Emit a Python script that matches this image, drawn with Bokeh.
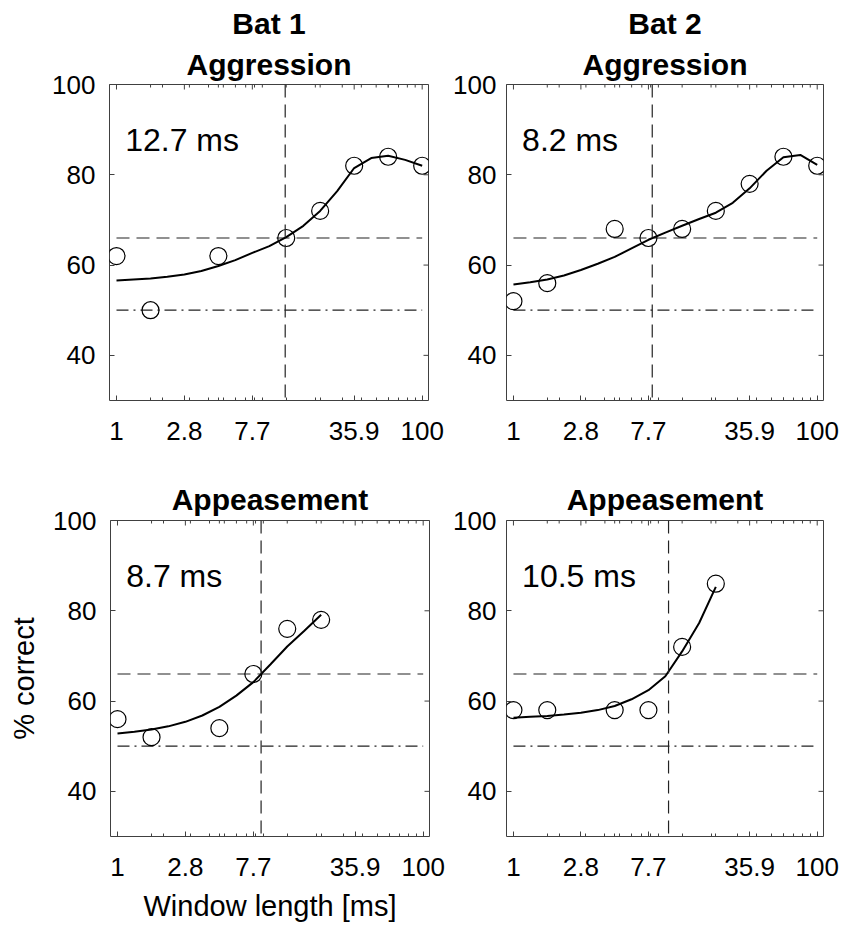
import math
from bokeh.plotting import figure
from bokeh.layouts import column, row
from bokeh.models import FixedTicker, Span, Title
from bokeh.core.properties import value
from bokeh.embed import file_html
from bokeh.resources import INLINE

FONT = "Liberation Sans"
AX = "#404040"
REF = "#222222"

# ---------------- data ----------------
win = [1.0, 1.67, 2.78, 4.64, 7.74, 12.9, 21.5, 35.9, 59.9, 100.0]
x_tick_pos = [1.0, 2.78, 7.74, 35.9, 100.0]
x_tick_labels = ["1", "2.8", "7.7", "35.9", "100"]
x_minor = [1.67, 4.64, 12.9, 21.5, 59.9, 2, 3, 4, 5, 6, 7, 8, 9, 20, 30, 40, 50, 60, 70, 80, 90]
y_ticks = [40, 60, 80, 100]
X_LO, X_HI = 0.9, 110
Y_LO, Y_HI = 30, 100

chance_level = 50
criterion_level = 66

fit_x = [1.0, 1.29, 1.67, 2.15, 2.78, 3.59, 4.64, 5.99, 7.74, 10.0,
         12.9, 16.7, 21.5, 27.8, 35.9, 46.4, 59.9, 77.4, 100.0]

bat1_agg_x = [1.0, 1.67, 4.64, 12.9, 21.5, 35.9, 59.9, 100.0]
bat1_agg_y = [62, 50, 62, 66, 72, 82, 84, 82]
bat1_agg_fit = [56.6, 56.8, 57.0, 57.4, 57.9, 58.7, 59.8, 61.1, 62.7, 64.2,
                66.2, 68.7, 72.0, 76.4, 81.5, 83.7, 84.2, 83.3, 82.0]
bat1_agg_thr = 12.7

bat2_agg_x = [1.0, 1.67, 4.64, 7.74, 12.9, 21.5, 35.9, 59.9, 100.0]
bat2_agg_y = [52, 56, 68, 66, 68, 72, 78, 84, 82]
bat2_agg_fit = [55.7, 56.2, 56.8, 57.7, 58.9, 60.3, 61.8, 63.7, 65.6, 67.2,
                68.7, 70.2, 71.6, 73.8, 77.0, 80.9, 83.9, 84.4, 82.2]
bat2_agg_thr = 8.2

bat1_app_x = [1.0, 1.67, 4.64, 7.74, 12.9, 21.5]
bat1_app_y = [56, 52, 54, 66, 76, 78]
bat1_app_fit = [52.8, 53.2, 53.7, 54.4, 55.4, 56.8, 58.7, 61.2, 64.2, 68.1,
                72.1, 75.6, 79.1]
bat1_app_thr = 8.7

bat2_app_x = [1.0, 1.67, 4.64, 7.74, 12.9, 21.5]
bat2_app_y = [58, 58, 58, 58, 72, 86]
bat2_app_fit = [56.3, 56.5, 56.7, 57.0, 57.4, 58.0, 58.9, 60.4, 62.4, 65.5,
                71.0, 77.3, 85.3]
bat2_app_thr = 10.5


def style_axis(ax, standoff):
    ax.axis_line_color = None
    ax.major_tick_in = 5
    ax.major_tick_out = 0
    ax.minor_tick_in = 3
    ax.minor_tick_out = 0
    ax.major_tick_line_color = AX
    ax.minor_tick_line_color = AX
    ax.major_label_text_font = FONT
    ax.major_label_text_color = "black"
    ax.major_label_text_font_size = "26px"
    ax.major_label_standoff = standoff


def panel(width, height, bl, br, bt, bb, xs, ys, fit, thr, titles,
          ylabel=None, xlabel=None, ystand=14, title_standoffs=(7, 6)):
    p = figure(width=width, height=height, x_axis_type="log",
               x_range=(X_LO, X_HI), y_range=(Y_LO, Y_HI),
               output_backend="svg", toolbar_location=None, title=None,
               min_border_left=bl, min_border_right=br,
               min_border_top=bt, min_border_bottom=bb)
    p.xgrid.visible = False
    p.ygrid.visible = False
    p.outline_line_color = AX
    p.outline_line_width = 1
    p.background_fill_color = "white"
    p.border_fill_color = "white"

    p.xaxis.ticker = FixedTicker(ticks=x_tick_pos, minor_ticks=x_minor)
    p.xaxis.major_label_overrides = dict(zip(x_tick_pos, x_tick_labels))
    style_axis(p.xaxis[0], 21)
    p.yaxis.ticker = FixedTicker(ticks=y_ticks)
    style_axis(p.yaxis[0], ystand)

    if xlabel:
        p.xaxis.axis_label = xlabel
        p.xaxis.axis_label_text_font = FONT
        p.xaxis.axis_label_text_font_size = "29px"
        p.xaxis.axis_label_text_font_style = "normal"
        p.xaxis.axis_label_text_color = "black"
        p.xaxis.axis_label_standoff = 11
    if ylabel:
        p.yaxis.axis_label = ylabel
        p.yaxis.axis_label_text_font = FONT
        p.yaxis.axis_label_text_font_size = "29px"
        p.yaxis.axis_label_text_font_style = "normal"
        p.yaxis.axis_label_text_color = "black"
        p.yaxis.axis_label_standoff = 10

    # titles (inner first)
    for i, t in enumerate(titles):
        p.add_layout(Title(text=t, align="center", text_font=FONT,
                           text_font_size="30px", text_font_style="bold",
                           text_color="black", standoff=title_standoffs[i]), "above")

    # mirrored ticks on the top and right edges of the box (clipped to the frame)
    p.scatter(x_tick_pos, [Y_HI] * len(x_tick_pos), marker="dash", angle=math.pi / 2,
              size=10, line_color=AX, line_width=1)
    p.scatter(x_minor, [Y_HI] * len(x_minor), marker="dash", angle=math.pi / 2,
              size=6, line_color=AX, line_width=1)
    p.scatter([X_HI] * len(y_ticks), y_ticks, marker="dash", angle=0,
              size=10, line_color=AX, line_width=1)

    # reference lines
    p.line([win[0], win[-1]], [criterion_level, criterion_level],
           line_color=REF, line_width=1.2, line_dash="13 7")
    p.line([win[0], win[-1]], [chance_level, chance_level],
           line_color=REF, line_width=1.2, line_dash="12 5 2 5")
    p.add_layout(Span(location=thr, dimension="height", line_color=REF,
                      line_width=1.2, line_dash="13 7"))

    # fit & data
    p.line(fit_x[:len(fit)], fit, line_color="black", line_width=2)
    p.scatter(xs, ys, marker="circle", size=17, fill_color=None,
              line_color="black", line_width=1.2)

    p.text(x=[1.14], y=[87.7], text=[f"{thr} ms"], text_font=value(FONT),
           text_font_size="32px", text_baseline="alphabetic", text_align="left",
           text_color="black")
    return p


p1 = panel(450, 460, 109, 22, 84, 60, bat1_agg_x, bat1_agg_y, bat1_agg_fit, bat1_agg_thr,
           ["Aggression", "Bat 1"], ystand=14)
p2 = panel(393, 460, 55, 20, 84, 60, bat2_agg_x, bat2_agg_y, bat2_agg_fit, bat2_agg_thr,
           ["Aggression", "Bat 2"], ystand=10)
p3 = panel(450, 467, 110, 21, 60, 91, bat1_app_x, bat1_app_y, bat1_app_fit, bat1_app_thr,
           ["Appeasement"], ylabel="% correct", xlabel="Window length [ms]", ystand=14,
           title_standoffs=(9,))
p4 = panel(393, 467, 55, 20, 60, 91, bat2_app_x, bat2_app_y, bat2_app_fit, bat2_app_thr,
           ["Appeasement"], ystand=10, title_standoffs=(9,))

layout = column(row(p1, p2), row(p3, p4))
open("out.html", "w").write(file_html(layout, INLINE))
